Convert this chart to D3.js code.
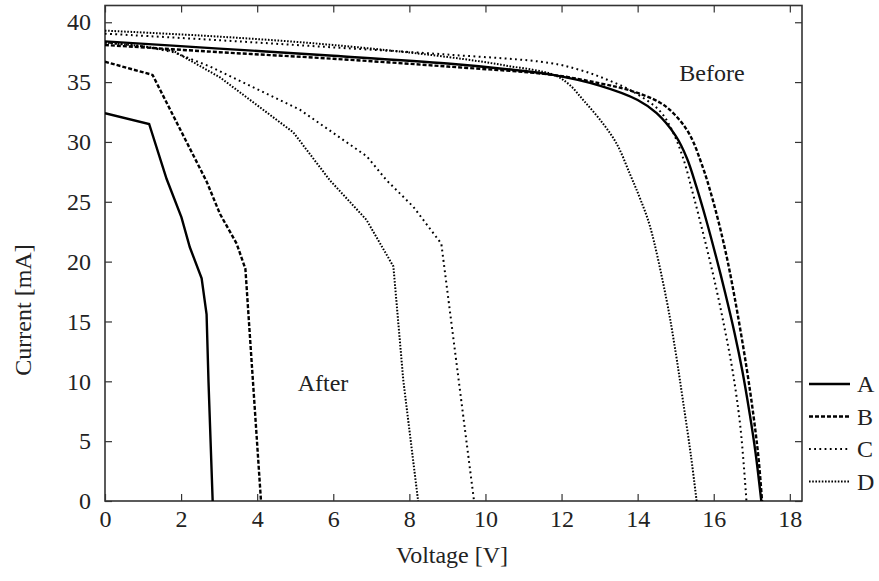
<!DOCTYPE html>
<html><head><meta charset="utf-8">
<script src="https://cdn.jsdelivr.net/npm/d3@7"></script>
<style>body{margin:0;background:#fff}svg{display:block}svg text{font-family:"Liberation Serif","Times New Roman",serif !important;font-size:24px !important;fill:#222}</style>
</head><body>
<script>
// ---- data (Voltage [V], Current [mA]) ----
const xTicks = [0,2,4,6,8,10,12,14,16,18];
const yTicks = [0,5,10,15,20,25,30,35,40];
const seriesNames = ["A","B","C","D"];

const beforeA = [[0,38.4],[3,37.8],[6,37.2],[9,36.55],[10.5,36.1],[11.77,35.6],[13,34.7],[14,33.5],[14.5,32.4],[15.0,30.5],[15.3,28.6],[15.54,26.3],[15.8,23.5],[16.07,20.3],[16.3,17.4],[16.55,14.0],[16.75,10.9],[16.95,7.2],[17.1,4.0],[17.25,0]];
const beforeB = [[0,38.1],[3,37.5],[6,36.95],[9,36.3],[11.77,35.6],[13,34.9],[13.8,34.3],[14.58,33.3],[15.0,32.2],[15.37,30.6],[15.7,28.0],[15.98,25.1],[16.3,21.0],[16.55,17.0],[16.86,11.2],[17.05,7.0],[17.18,3.5],[17.27,0]];
const beforeC = [[0,39.05],[3,38.5],[6,37.9],[9,37.3],[11.69,36.6],[12.5,36.0],[13.2,35.2],[13.88,34.2],[14.58,32.6],[14.9,31.0],[15.19,28.7],[15.46,25.6],[15.75,22.0],[16.05,18.0],[16.3,14.2],[16.5,10.8],[16.7,6.2],[16.86,0]];
const beforeD = [[0,39.3],[3,38.8],[6,38.1],[9,37.1],[10.5,36.4],[11.8,35.6],[12.2,34.8],[12.57,33.5],[13.0,31.9],[13.44,29.9],[13.8,27.3],[14.06,25.3],[14.32,23.0],[14.76,16.8],[15.0,12.4],[15.19,8.4],[15.4,3.8],[15.55,0]];

const afterA = [[0,32.4],[1.16,31.5],[1.62,26.9],[2.01,23.7],[2.23,21.2],[2.54,18.6],[2.67,15.6],[2.72,10.0],[2.83,0]];
const afterB = [[0,36.7],[1.25,35.6],[2.67,26.7],[3.02,24.0],[3.46,21.5],[3.69,19.4],[4.1,0]];
const afterC = [[0,38.3],[1.0,38.0],[1.8,37.5],[2.76,36.3],[5.12,32.7],[6.88,28.8],[7.4,26.8],[8.1,24.6],[8.84,21.5],[9.7,0]];
const afterD = [[0,38.3],[1.0,38.0],[1.8,37.6],[3.02,35.4],[4.95,30.8],[5.91,26.8],[6.87,23.5],[7.58,19.6],[7.84,10.1],[8.23,0]];

const W = 879, H = 581;
const svg = d3.select("body").append("svg").attr("width", W).attr("height", H);

const x = d3.scaleLinear().domain([0, 18.32]).range([105, 802]);
const y = d3.scaleLinear().domain([0, 41.4]).range([501, 5.5]);

const styles = {
  A: {w: 2.4, dash: null},
  B: {w: 2.4, dash: "4,2"},
  C: {w: 2.0, dash: "1.8,3.4"},
  D: {w: 2.0, dash: "1.6,1.6"}
};

// axes (inward ticks, mirrored)
const tl = 7;
svg.append("g").attr("transform", `translate(0,${y(0)})`)
  .call(d3.axisBottom(x).tickValues(xTicks).tickSizeInner(-tl).tickSizeOuter(0).tickPadding(9).tickFormat(d3.format("d")))
  .call(g => g.select(".domain").remove());
svg.append("g").attr("transform", `translate(0,${y.range()[1]})`)
  .call(d3.axisTop(x).tickValues(xTicks).tickSizeInner(-tl).tickSizeOuter(0).tickFormat(""))
  .call(g => g.select(".domain").remove());
svg.append("g").attr("transform", `translate(${x(0)},0)`)
  .call(d3.axisLeft(y).tickValues(yTicks).tickSizeInner(-tl).tickSizeOuter(0).tickPadding(14).tickFormat(d3.format("d")))
  .call(g => g.select(".domain").remove());
svg.append("g").attr("transform", `translate(${x.range()[1]},0)`)
  .call(d3.axisRight(y).tickValues(yTicks).tickSizeInner(-tl).tickSizeOuter(0).tickFormat(""))
  .call(g => g.select(".domain").remove());
svg.selectAll(".tick line").attr("stroke", "#333").attr("stroke-width", 1.2);
svg.selectAll(".tick text").attr("fill", "#222");

// frame
svg.append("rect").attr("x", x(0)).attr("y", y.range()[1])
  .attr("width", x.range()[1] - x(0)).attr("height", y(0) - y.range()[1])
  .attr("fill", "none").attr("stroke", "#333").attr("stroke-width", 1.6);

svg.append("clipPath").attr("id", "clip").append("rect")
  .attr("x", x(0)).attr("y", y.range()[1]).attr("width", x.range()[1] - x(0)).attr("height", y(0) - y.range()[1]);

const lineSmooth = d3.line().x(d => x(d[0])).y(d => y(d[1])).curve(d3.curveCatmullRom.alpha(0.5));
const lineStraight = d3.line().x(d => x(d[0])).y(d => y(d[1]));

const plotG = svg.append("g").attr("clip-path", "url(#clip)");
const curves = [
  {n: "A", d: beforeA, f: lineSmooth}, {n: "B", d: beforeB, f: lineSmooth},
  {n: "C", d: beforeC, f: lineSmooth}, {n: "D", d: beforeD, f: lineSmooth},
  {n: "A", d: afterA, f: lineStraight}, {n: "B", d: afterB, f: lineStraight},
  {n: "C", d: afterC, f: lineStraight}, {n: "D", d: afterD, f: lineStraight}
];
curves.forEach(c => {
  plotG.append("path").attr("d", c.f(c.d)).attr("fill", "none")
    .attr("stroke", "#000").attr("stroke-width", styles[c.n].w)
    .attr("stroke-dasharray", styles[c.n].dash);
});

// annotations
svg.append("text").attr("x", 712).attr("y", 81).attr("text-anchor", "middle").text("Before");
svg.append("text").attr("x", 323).attr("y", 391).attr("text-anchor", "middle").text("After");

// axis titles
svg.append("text").attr("x", 452).attr("y", 563).attr("text-anchor", "middle").text("Voltage [V]");
svg.append("text").attr("transform", "translate(31,310) rotate(-90)").attr("text-anchor", "middle").text("Current [mA]");

// legend
const leg = svg.append("g");
seriesNames.forEach((n, i) => {
  const ly = 384 + i * 32.5;
  leg.append("line").attr("x1", 809).attr("x2", 850).attr("y1", ly).attr("y2", ly)
    .attr("stroke", "#000").attr("stroke-width", styles[n].w).attr("stroke-dasharray", styles[n].dash);
  leg.append("text").attr("x", 857).attr("y", ly + 8).text(n);
});
</script>
</body></html>
